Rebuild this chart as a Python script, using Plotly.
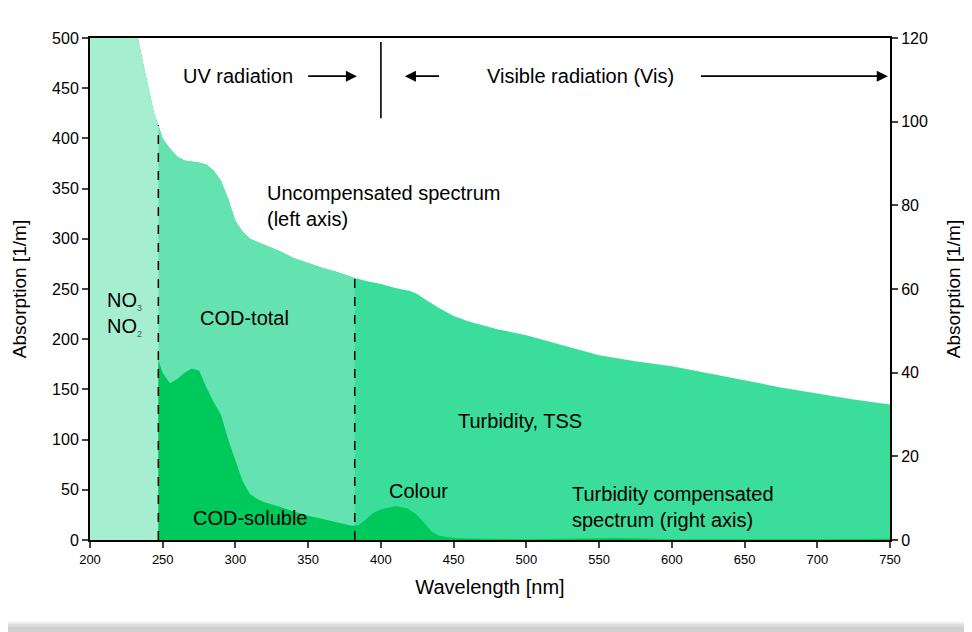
import numpy as np
import plotly.graph_objects as go

# ---- data ----
wavelength_uncomp = [200, 210, 220, 230, 233, 236, 240, 244, 247, 250, 255, 260, 265, 270, 275, 280,
                     285, 290, 295, 300, 305, 310, 320, 330, 340, 350, 360, 370, 380, 382, 390, 400,
                     410, 420, 425, 430, 440, 450, 460, 470, 480, 490, 500, 510, 520, 530, 540, 550,
                     575, 600, 625, 650, 675, 700, 725, 750]
absorb_uncomp = [640, 600, 560, 515, 500, 478, 450, 425, 413, 400, 390, 382, 378, 377, 376, 374,
                 368, 358, 340, 318, 307, 300, 294, 288, 281, 276, 271, 267, 262, 261, 258, 255,
                 251, 248, 245, 240, 231, 223, 218, 214, 210, 207, 204, 200, 196, 192, 188, 184,
                 178, 173, 166, 159, 152, 146, 140, 135]

wavelength_comp = [247, 250, 255, 260, 265, 270, 275, 280, 285, 290, 295, 300, 305, 310, 315, 320,
                   330, 340, 350, 360, 370, 380, 385, 390, 395, 400, 410, 418, 425, 430, 435, 440,
                   450, 470, 500, 550, 560, 575, 600, 700, 750]
absorb_comp = [43, 40, 37.5, 38.5, 40, 41, 40.5, 36.5, 33, 30, 24, 19, 14, 11, 9.8, 9,
               8, 6.8, 5.8, 5, 4.2, 3.4, 3.6, 5, 6.5, 7.3, 8.1, 7.6, 6, 4, 2, 1,
               0.5, 0.3, 0.2, 0.4, 0.5, 0.4, 0.2, 0.2, 0.3]

boundary_nox = 247     # NO3/NO2 | COD
boundary_vis = 382     # UV | Vis (turbidity)
x_ticks = [200, 250, 300, 350, 400, 450, 500, 550, 600, 650, 700, 750]
y_left_ticks = [0, 50, 100, 150, 200, 250, 300, 350, 400, 450, 500]
y_right_ticks = [0, 20, 40, 60, 80, 100, 120]

C_LIGHT = "#a5efd0"
C_MID = "#64e3b1"
C_DARK = "#3add9a"
C_SOL = "#00c95c"

wl = np.array(wavelength_uncomp)
ab = np.array(absorb_uncomp)

fig = go.Figure()
fig.add_trace(go.Scatter(x=wl, y=ab, fill="tozeroy", mode="lines",
                         line=dict(width=0, color=C_DARK), fillcolor=C_DARK, hoverinfo="skip"))
m = wl <= boundary_vis
fig.add_trace(go.Scatter(x=wl[m], y=ab[m], fill="tozeroy", mode="lines",
                         line=dict(width=0, color=C_MID), fillcolor=C_MID, hoverinfo="skip"))
m = wl <= boundary_nox
fig.add_trace(go.Scatter(x=wl[m], y=ab[m], fill="tozeroy", mode="lines",
                         line=dict(width=0, color=C_LIGHT), fillcolor=C_LIGHT, hoverinfo="skip"))
fig.add_trace(go.Scatter(x=wavelength_comp, y=absorb_comp, fill="tozeroy", mode="lines",
                         line=dict(width=0, color=C_SOL), fillcolor=C_SOL, yaxis="y2",
                         hoverinfo="skip"))

# dashed boundaries up to the curve
for b in (boundary_nox, boundary_vis):
    fig.add_shape(type="line", x0=b, x1=b, y0=0, y1=float(np.interp(b, wl, ab)),
                  xref="x", yref="y", line=dict(color="black", width=1.5, dash="dash"))

# UV/Vis separator
fig.add_shape(type="line", x0=400, x1=400, y0=420, y1=496, xref="x", yref="y",
              line=dict(color="black", width=1.6))

FONT = "Liberation Sans, Arial, sans-serif"
AF = dict(family=FONT, size=20, color="black")

def arrow(x_head, x_tail, y):
    fig.add_annotation(x=x_head, y=y, ax=x_tail, ay=y, xref="x", yref="y", axref="x", ayref="y",
                       text="", showarrow=True, arrowhead=2, arrowsize=1.3, arrowwidth=1.7,
                       arrowcolor="black")

arrow(383.5, 349, 462)
arrow(416.5, 441, 462)
arrow(748.5, 619, 462)

def label(text, x, y, anchor="center", align="center"):
    fig.add_annotation(x=x, y=y, xref="x", yref="y", text=text, showarrow=False,
                       font=AF, xanchor=anchor, align=align)

label("UV radiation", 301.5, 462)
label("Visible radiation (Vis)", 537, 462)
label("Uncompensated spectrum<br>(left axis)", 320, 333, anchor="left", align="left")
label("NO<sub><span style='font-size:9px;color:#555'>3</span></sub><br>"
      "NO<sub><span style='font-size:9px;color:#555'>2</span></sub>", 210, 225,
      anchor="left", align="left")
label("COD-total", 306.5, 221)
label("Turbidity, TSS", 495.5, 118.5)
label("Colour", 425.5, 49)
label("COD-soluble", 310, 22)
label("Turbidity compensated<br>spectrum (right axis)", 530, 33, anchor="left", align="left")

# bottom shadow band (soft gradient)
for y0, y1, col in [(-0.163, -0.167, "#ececec"), (-0.167, -0.172, "#dedede"),
                    (-0.172, -0.19, "#d0d0d0")]:
    fig.add_shape(type="rect", xref="paper", yref="paper", x0=-0.2, x1=1.2, y0=y1, y1=y0,
                  line=dict(width=0), fillcolor=col, layer="below")

fig.update_layout(
    width=972, height=632,
    margin=dict(l=82, r=90, t=30, b=100),
    paper_bgcolor="white", plot_bgcolor="white",
    showlegend=False,
    font=dict(family=FONT, color="black"),
    xaxis=dict(range=[200, 750], tickvals=x_ticks, ticks="outside", ticklen=6, tickwidth=1.5,
               showline=True, linecolor="black", linewidth=2, mirror=True, showgrid=False,
               zeroline=False, automargin=False,
               tickfont=dict(family="Liberation Sans Narrow, " + FONT, size=13),
               title=dict(text="Wavelength [nm]", font=dict(family=FONT, size=20), standoff=14)),
    yaxis=dict(range=[0, 500], tickvals=y_left_ticks, ticks="outside", ticklen=6, tickwidth=1.5,
               showline=True, linecolor="black", linewidth=2, showgrid=False, zeroline=False,
               automargin=False, tickfont=dict(family=FONT, size=16),
               title=dict(text="Absorption [1/m]", font=dict(family=FONT, size=19), standoff=20)),
    yaxis2=dict(range=[0, 120], tickvals=y_right_ticks, ticks="outside", ticklen=6, tickwidth=1.5,
                overlaying="y", side="right", showline=True, linecolor="black", linewidth=2,
                showgrid=False, zeroline=False, automargin=False, tickfont=dict(family=FONT, size=16),
                title=dict(text="Absorption [1/m]", font=dict(family=FONT, size=19), standoff=20)),
)

fig.write_html("out.html")
